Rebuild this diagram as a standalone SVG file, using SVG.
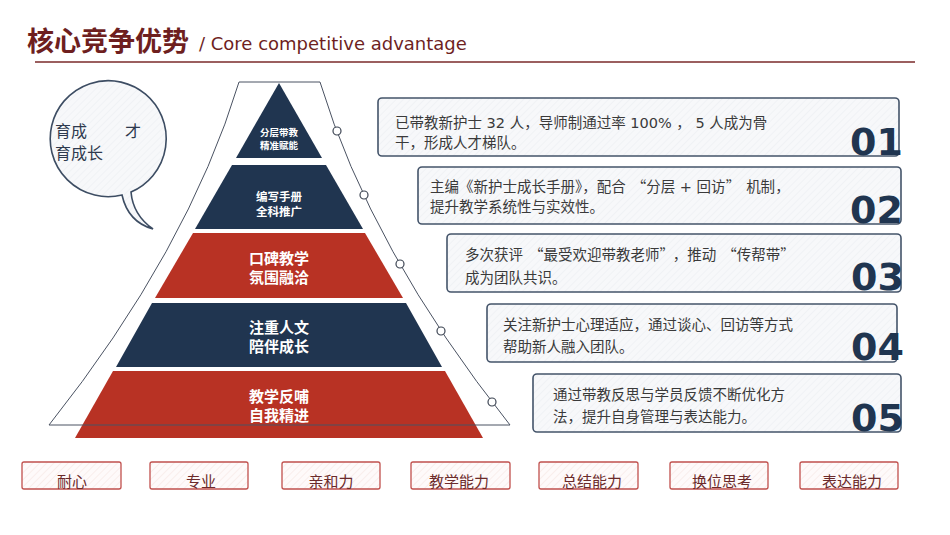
<svg xmlns="http://www.w3.org/2000/svg" width="950" height="535" viewBox="0 0 950 535">
<defs>
<pattern id="hatchGray" width="5" height="5" patternUnits="userSpaceOnUse" patternTransform="rotate(45)">
<rect width="5" height="5" fill="#f7f8fa"/>
<line x1="0" y1="0" x2="0" y2="5" stroke="#eceef2" stroke-width="1.2"/>
</pattern>
<pattern id="hatchPink" width="5" height="5" patternUnits="userSpaceOnUse" patternTransform="rotate(45)">
<rect width="5" height="5" fill="#fefafa"/>
<line x1="0" y1="0" x2="0" y2="5" stroke="#f6e6e4" stroke-width="1.2"/>
</pattern>
</defs>
<style>
.title{font-family:"Noto Sans CJK SC",sans-serif;font-weight:700;font-size:27px;fill:#6e1f1f}
.sub{font-family:"DejaVu Sans","Noto Sans CJK SC",sans-serif;font-size:18px;fill:#6e1f1f}
.navy{fill:#203550}
.red{fill:#b83224}
.lt{font-family:"Noto Sans CJK SC",sans-serif;font-weight:700;fill:#ffffff;text-anchor:middle}
.box{fill:url(#hatchGray);stroke:#44546a;stroke-width:1.6}
.bt{font-family:"DejaVu Sans","Noto Sans CJK SC",sans-serif;font-size:14.5px;fill:#3a3a3a}
.q{font-family:"Noto Sans CJK SC",sans-serif}
.num{font-family:"DejaVu Sans",sans-serif;font-weight:700;font-size:38px;fill:#203550;text-anchor:end}
.tag{fill:url(#hatchPink);stroke:#c0504d;stroke-width:1.3}
.tt{font-family:"Noto Sans CJK SC",sans-serif;font-size:15px;fill:#6b2a2a;text-anchor:middle}
.dot{fill:#ffffff;stroke:#3c4452;stroke-width:1.2}
.bub{font-family:"Noto Sans CJK SC",sans-serif;font-size:16px;fill:#2e3a4e}
</style>

<g id="title">
<text class="title" x="27" y="51">核心竞争优势</text>
<text class="sub" x="199" y="50">/ Core competitive advantage</text>
<line x1="35" y1="62" x2="915" y2="62" stroke="#7a2a2a" stroke-width="1.5"/>
</g>

<g id="bubble">
<path d="M122,195 Q128,222 153,229 Q133,215 131,192 A58,58 0 1 0 122,195 Z" fill="url(#hatchGray)" stroke="#3d4d63" stroke-width="1.6"/>
<text class="bub" x="55" y="137">育成</text>
<text class="bub" x="125" y="137">才</text>
<text class="bub" x="55" y="159">育成长</text>
</g>

<g id="pyramid">
<g id="layer1"><polygon class="navy" points="279,83 322,158 236,158"/>
<text class="lt" x="279" y="135.5" font-size="9.5">分层带教</text>
<text class="lt" x="279" y="148.5" font-size="9.5">精准赋能</text></g>
<g id="layer2"><polygon class="navy" points="232,165 326,165 363,229 195,229"/>
<text class="lt" x="279" y="201" font-size="11.5">编写手册</text>
<text class="lt" x="279" y="215.5" font-size="11.5">全科推广</text></g>
<g id="layer3"><polygon class="red" points="193,233 365,233 403,298 155,298"/>
<text class="lt" x="279" y="264" font-size="15">口碑教学</text>
<text class="lt" x="279" y="283" font-size="15">氛围融洽</text></g>
<g id="layer4"><polygon class="navy" points="152,303 406,303 442,367 116,367"/>
<text class="lt" x="279" y="333" font-size="15">注重人文</text>
<text class="lt" x="279" y="352" font-size="15">陪伴成长</text></g>
<g id="layer5"><polygon class="red" points="113,371 445,371 483,438 75,438"/>
<text class="lt" x="279" y="402" font-size="15">教学反哺</text>
<text class="lt" x="279" y="421" font-size="15">自我精进</text></g>
</g>

<g id="connectors">
<path d="M320,82 Q371,250 510,425 L49,425 Q188,250 239,82 Z" fill="none" stroke="#4a5262" stroke-width="1"/>
<circle class="dot" cx="337" cy="131" r="4"/>
<circle class="dot" cx="364" cy="195" r="4"/>
<circle class="dot" cx="400" cy="264" r="4"/>
<circle class="dot" cx="441" cy="331" r="4"/>
<circle class="dot" cx="492" cy="402" r="4"/>
</g>

<g id="item1"><rect class="box" x="378" y="98" width="521" height="58" rx="4"/>
<text class="bt" x="395" y="128">已带教新护士 32 人<tspan class="q">，</tspan>导师制通过率 100% <tspan class="q">，</tspan> 5 人成为骨</text>
<text class="bt" x="395" y="148">干<tspan class="q">，</tspan>形成人才梯队。</text>
<text class="num" x="903" y="155">01</text></g>
<g id="item2"><rect class="box" x="418" y="167" width="483" height="57" rx="4"/>
<text class="bt" x="430" y="192">主编《新护士成长手册》<tspan class="q">，</tspan>配合<tspan class="q" dx="6">“</tspan>分层 + 回访<tspan class="q">”</tspan><tspan dx="6">机制</tspan><tspan class="q">，</tspan></text>
<text class="bt" x="430" y="212">提升教学系统性与实效性。</text>
<text class="num" x="903" y="223">02</text></g>
<g id="item3"><rect class="box" x="447" y="234" width="454" height="58" rx="4"/>
<text class="bt" x="465" y="260">多次获评<tspan class="q" dx="6">“</tspan>最受欢迎带教老师<tspan class="q">”</tspan><tspan class="q" dx="6">，</tspan>推动<tspan class="q" dx="6">“</tspan>传帮带<tspan class="q">”</tspan></text>
<text class="bt" x="465" y="283">成为团队共识。</text>
<text class="num" x="904" y="290">03</text></g>
<g id="item4"><rect class="box" x="487" y="304" width="410" height="58" rx="4"/>
<text class="bt" x="503" y="330">关注新护士心理适应<tspan class="q">，</tspan>通过谈心、回访等方式</text>
<text class="bt" x="503" y="352">帮助新人融入团队。</text>
<text class="num" x="904" y="360">04</text></g>
<g id="item5"><rect class="box" x="533" y="374" width="368" height="58" rx="4"/>
<text class="bt" x="553" y="400">通过带教反思与学员反馈不断优化方</text>
<text class="bt" x="553" y="422">法<tspan class="q">，</tspan>提升自身管理与表达能力。</text>
<text class="num" x="904" y="431">05</text></g>

<g id="tag1"><rect class="tag" x="22" y="462" width="99" height="27" rx="2"/><text class="tt" x="72" y="487">耐心</text></g>
<g id="tag2"><rect class="tag" x="150" y="462" width="98" height="27" rx="2"/><text class="tt" x="201" y="487">专业</text></g>
<g id="tag3"><rect class="tag" x="282" y="462" width="98" height="27" rx="2"/><text class="tt" x="331" y="487">亲和力</text></g>
<g id="tag4"><rect class="tag" x="411" y="462" width="99" height="27" rx="2"/><text class="tt" x="459" y="487">教学能力</text></g>
<g id="tag5"><rect class="tag" x="539" y="462" width="99" height="27" rx="2"/><text class="tt" x="592" y="487">总结能力</text></g>
<g id="tag6"><rect class="tag" x="670" y="462" width="98" height="27" rx="2"/><text class="tt" x="722" y="487">换位思考</text></g>
<g id="tag7"><rect class="tag" x="800" y="462" width="98" height="27" rx="2"/><text class="tt" x="852" y="487">表达能力</text></g>
</svg>
